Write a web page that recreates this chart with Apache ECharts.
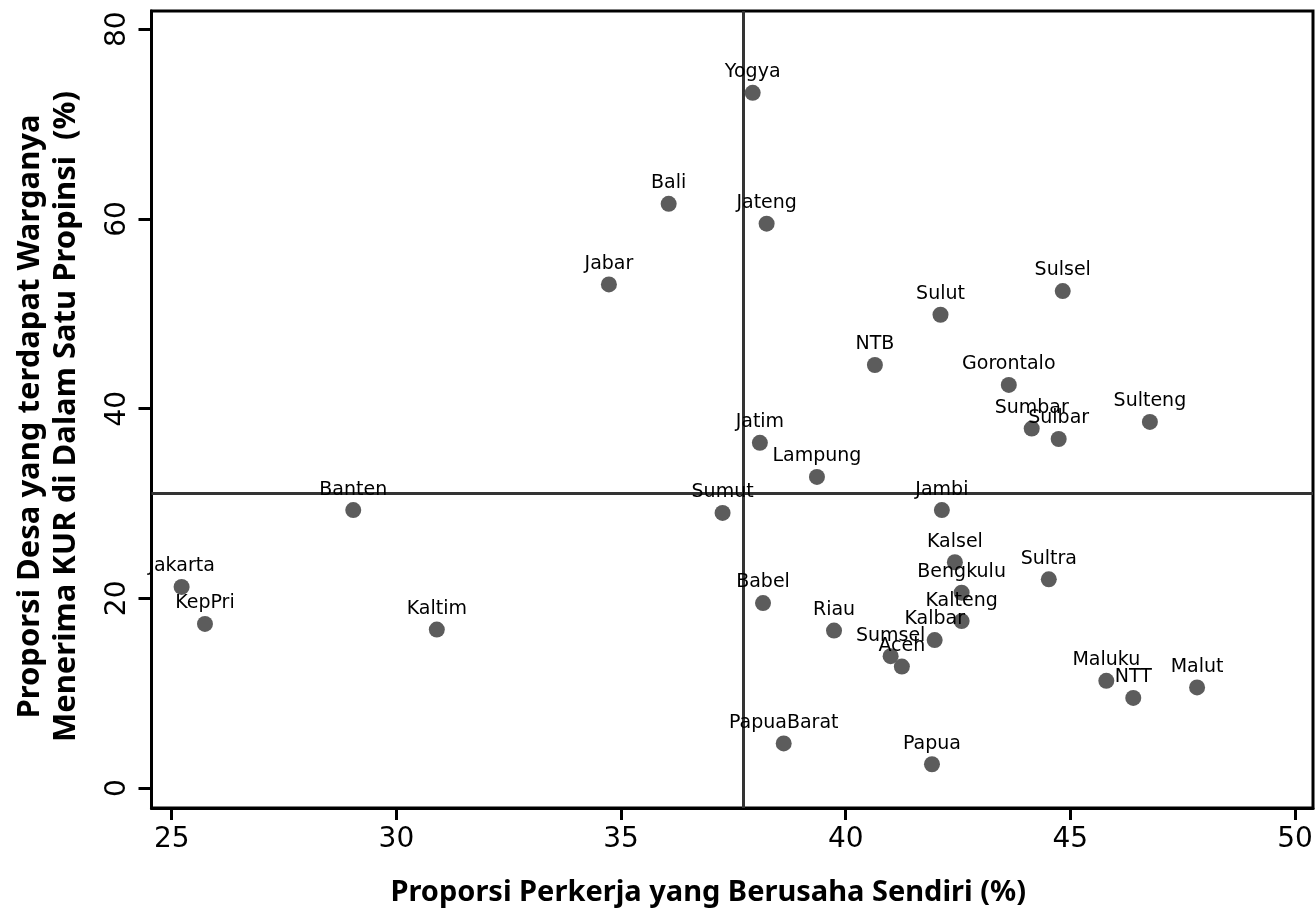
<!DOCTYPE html>
<html>
<head>
<meta charset="utf-8">
<script src="https://cdn.jsdelivr.net/npm/echarts@6/dist/echarts.min.js"></script>
<style>
  html, body { margin: 0; padding: 0; background: #fff; }
  #chart { width: 1316px; height: 915px; }
</style>
</head>
<body>
<div id="chart"></div>
<script>
// provinces
const provinces = ['Yogya', 'Bali', 'Jateng', 'Jabar', 'Sulsel', 'Sulut', 'NTB', 'Gorontalo', 'Sulteng',
  'Sumbar', 'Sulbar', 'Jatim', 'Lampung', 'Sumut', 'Babel', 'Riau', 'Banten', 'Jakarta', 'KepPri',
  'Jambi', 'Kalsel', 'Sultra', 'Bengkulu', 'Kalteng', 'Kalbar', 'Sumsel', 'Aceh', 'Kaltim',
  'Maluku', 'NTT', 'Malut', 'PapuaBarat', 'Papua']
// Proporsi Perkerja yang Berusaha Sendiri (%)
const selfEmployed = [37.93, 36.06, 38.24, 34.73, 44.83, 42.11, 40.65, 43.63, 46.77,
  44.14, 44.74, 38.09, 39.36, 37.26, 38.16, 39.74, 29.04, 25.22, 25.74,
  42.14, 42.43, 44.52, 42.58, 42.58, 41.98, 41.00, 41.25, 30.90,
  45.80, 46.40, 47.82, 38.62, 41.92]
// Proporsi Desa yang terdapat warganya menerima KUR (%)
const villagesKur = [73.3, 61.6, 59.5, 53.1, 52.4, 49.9, 44.6, 42.5, 38.6,
  37.9, 36.8, 36.4, 32.8, 29.0, 19.5, 16.6, 29.3, 21.2, 17.3,
  29.3, 23.8, 22.0, 20.6, 17.6, 15.6, 13.9, 12.8, 16.7,
  11.3, 9.5, 10.6, 4.7, 2.5]
// mean lines
const meanX = 37.72
const meanY = 31.1
const xTicks = [25, 30, 35, 40, 45, 50]
const yTicks = [0, 20, 40, 60, 80]

const points = provinces.map((name, i) => ({ name, value: [selfEmployed[i], villagesKur[i]] }))

const chart = echarts.init(document.getElementById('chart'))
const option = {
  animation: false,
  backgroundColor: '#fff',
  grid: {
    left: 151.5,
    right: 3,
    top: 11,
    bottom: 107,
    outerBoundsMode: 'none',
    containLabel: false,
    show: true,
    borderColor: '#000',
    borderWidth: 3
  },
  xAxis: {
    type: 'value',
    min: 24.55,
    max: 50.4,
    name: 'Proporsi Perkerja yang Berusaha Sendiri (%)',
    nameLocation: 'middle',
    nameGap: 70,
    nameTextStyle: { fontFamily: 'Noto Sans', fontWeight: 'bold', fontSize: 29, color: '#000', padding: [0, 48, 0, 0] },
    axisLine: { onZero: false, lineStyle: { color: '#000', width: 3 } },
    axisTick: { show: true, length: 12, customValues: xTicks, lineStyle: { color: '#000', width: 3 } },
    axisLabel: { customValues: xTicks, margin: 18, fontFamily: 'DejaVu Sans', fontSize: 28, color: '#000' },
    splitLine: { show: false }
  },
  yAxis: {
    type: 'value',
    min: -2.11,
    max: 81.93,
    name: 'Proporsi Desa yang terdapat Warganya\nMenerima KUR di Dalam Satu Propinsi  (%)',
    nameLocation: 'middle',
    nameGap: 67,
    nameRotate: 90,
    nameTextStyle: { fontFamily: 'Noto Sans', fontWeight: 'bold', fontSize: 31, color: '#000', lineHeight: 36, padding: [0, 14, 0, 0] },
    axisLine: { onZero: false, lineStyle: { color: '#000', width: 3 } },
    axisTick: { show: true, length: 13, customValues: yTicks, lineStyle: { color: '#000', width: 3 } },
    axisLabel: { customValues: yTicks, rotate: 90, margin: 20, fontFamily: 'DejaVu Sans', fontSize: 28, color: '#000' },
    splitLine: { show: false }
  },
  series: [
    {
      type: 'scatter',
      symbolSize: 16,
      itemStyle: { color: '#5c5c5c', opacity: 1 },
      label: {
        show: true,
        position: 'top',
        distance: 3,
        formatter: p => p.name,
        fontFamily: 'DejaVu Sans',
        fontSize: 19,
        color: '#000'
      },
      data: points,
      z: 3,
      markLine: {
        silent: true,
        symbol: 'none',
        label: { show: false },
        lineStyle: { color: '#333', width: 3, type: 'solid' },
        data: [{ xAxis: meanX }, { yAxis: meanY }],
        z: 1
      }
    }
  ]
}
chart.setOption(option)
</script>
</body>
</html>
